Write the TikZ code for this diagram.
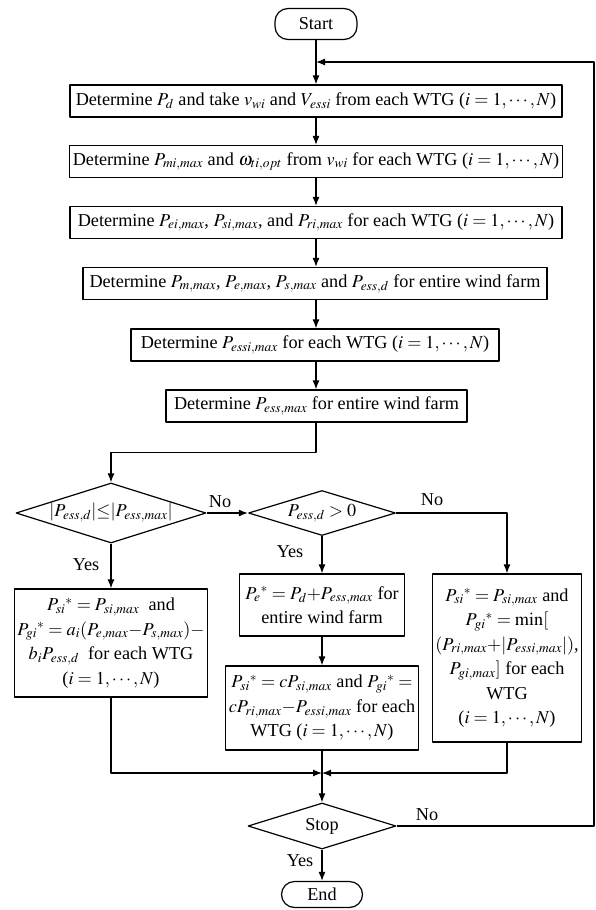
\documentclass[tikz,border=0pt]{standalone}
\usepackage{mathptmx}
\usepackage[no-math]{fontspec}
\setmainfont{Liberation Serif}
\usetikzlibrary{arrows.meta,shapes.geometric}
\tikzset{
  every picture/.style={
    font=\fontsize{18.2}{24.5}\selectfont,
    line join=round,
    >={Latex[length=9pt,width=7pt]},
  },
}
\begin{document}
\begin{tikzpicture}[x=1pt,y=-1pt,
    stepbox/.style={draw, line width=1.2pt, inner sep=3pt, minimum height=32pt, align=center},
    termbox/.style={draw, line width=1.2pt, rounded corners=13pt, inner sep=0pt, minimum width=82pt, minimum height=31pt},
    testbox/.style={draw, diamond, aspect=3.2, line width=1.2pt, inner sep=0pt},
    line/.style={line width=1.2pt}]
    \useasboundingbox (0,0) rectangle (595,910);
    % Start and the sequential steps
    \node[termbox] (start) at (316,24) {Start};
    \node[stepbox, minimum width=492pt] (detPd) at (316,101) {Determine $P_d$ and take $v_{wi}$ and $V_{essi}$ from each WTG ($i = 1, \cdots, N$)};
    \node[stepbox, minimum width=492pt] (detPm) at (316,161.5) {Determine $P_{mi,max}$ and $\omega_{ti,opt}$ from $v_{wi}$ for each WTG ($i = 1, \cdots, N$)};
    \node[stepbox, minimum width=492pt] (detPe) at (316,222.5) {Determine $P_{ei,max}$, $P_{si,max}$, and $P_{ri,max}$ for each WTG ($i = 1, \cdots, N$)};
    \node[stepbox, minimum width=464pt] (detFarm) at (315,283.5) {Determine $P_{m,max}$, $P_{e,max}$, $P_{s,max}$ and $P_{ess,d}$ for entire wind farm};
    \node[stepbox, minimum width=368pt] (detEssi) at (315,345) {Determine $P_{essi,max}$ for each WTG ($i = 1, \cdots, N$)};
    \node[stepbox, minimum width=301pt] (detEss) at (316.5,406) {Determine $P_{ess,max}$ for entire wind farm};
    % Decisions
    \node[testbox, minimum width=190pt, minimum height=60pt] (chkAbs) at (111,513) {$|P_{ess,d}|{\le}|P_{ess,max}|$};
    \node[testbox, minimum width=147pt, minimum height=45pt] (chkSign) at (322,513) {$P_{ess,d} > 0$};
    % Operating modes
    \node[stepbox, minimum width=191pt, minimum height=108pt] (modeA) at (111,643) {$P_{si}{}^{*} = P_{si,max}$\ \ and\\ $P_{gi}{}^{*} = a_i(P_{e,max}{-}P_{s,max}) -$\\ $b_iP_{ess,d}$\ \ for each WTG\\ ($i = 1, \cdots, N$)};
    \node[stepbox, minimum width=165pt, minimum height=62pt] (modeB) at (322,605) {$P_e{}^{*} = P_d{+}P_{ess,max}$ for\\ entire wind farm};
    \node[stepbox, minimum width=191pt, minimum height=84pt] (modeC) at (322,708) {$P_{si}{}^{*} = cP_{si,max}$ and $P_{gi}{}^{*} =$\\ $cP_{ri,max}{-}P_{essi,max}$ for each\\ WTG ($i = 1, \cdots, N$)};
    \node[stepbox, minimum width=140pt, minimum height=168pt] (modeD) at (507,658) {$P_{si}{}^{*} = P_{si,max}$ and\\ $P_{gi}{}^{*} = \min[$\\ $(P_{ri,max}{+}|P_{essi,max}|)$,\\ $P_{gi,max}]$ for each\\ WTG\\ ($i = 1, \cdots, N$)};
    % Stop test and End
    \coordinate (join) at (322,773);
    \node[testbox, minimum width=148pt, minimum height=46pt] (stop) at (322,826) {Stop};
    \node[termbox, minimum width=81pt, minimum height=26pt] (end) at (322,894.5) {End};
    \coordinate (loopIn) at (316,62);
    \coordinate (loopTop) at (594,62);
    % Arrows
    \draw[line,->] (start) -- (detPd);
    \draw[line,->] (detPd) -- (detPm);
    \draw[line,->] (detPm) -- (detPe);
    \draw[line,->] (detPe) -- (detFarm.north -| detPe.south);
    \draw[line,->] (detFarm.south -| detPe.south) -- (detEssi.north -| detPe.south);
    \draw[line,->] (detEssi.south -| detPe.south) -- (detEss.north -| detPe.south);
    \draw[line,->] (detEss.south -| detPe.south) -- ++(0,30) -| (chkAbs.north);
    \draw[line,->] (chkAbs) -- (chkSign);
    \draw[line,->] (chkAbs) -- (modeA);
    \draw[line,->] (chkSign) -- (modeB);
    \draw[line,->] (chkSign.east) -| (modeD.north);
    \draw[line,->] (modeB) -- (modeC);
    \draw[line,->] (modeA.south) |- (join);
    \draw[line,->] (modeD.south) |- (join);
    \draw[line,->] (modeC.south) -- (stop.north);
    \draw[line,->] (stop) -- (end);
    \draw[line,->] (stop.east) -| (loopTop) -- (loopIn);
    % Branch labels
    \node (noAbs) at (220,502) {No};
    \node (yesAbs) at (86,565) {Yes};
    \node (yesSign) at (290,552) {Yes};
    \node (noSign) at (432,500) {No};
    \node (noStop) at (427,815) {No};
    \node (yesStop) at (300,861) {Yes};
\end{tikzpicture}
\end{document}
